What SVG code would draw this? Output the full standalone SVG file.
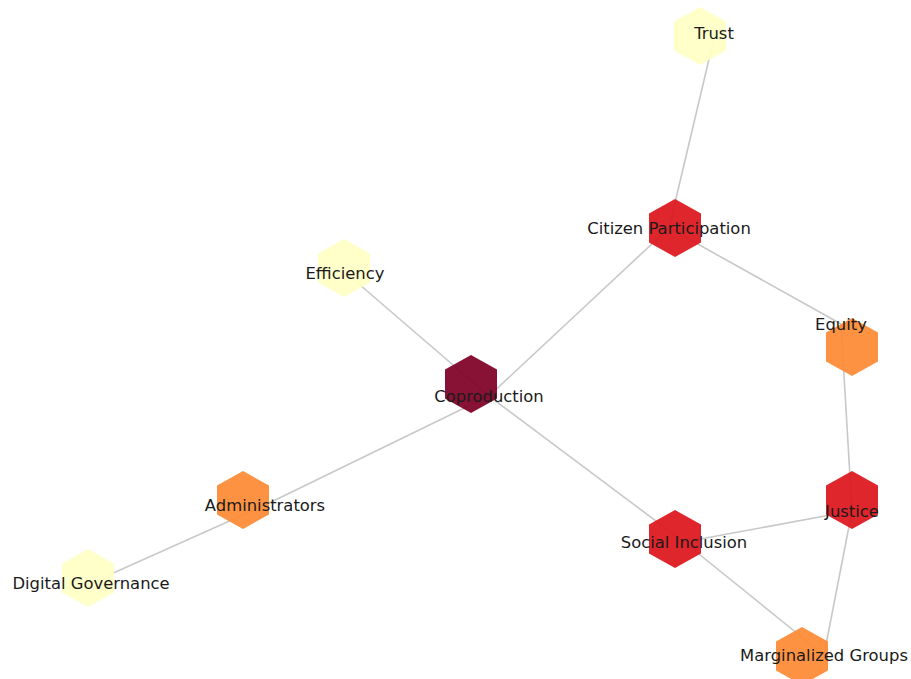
<svg xmlns="http://www.w3.org/2000/svg" width="911" height="679" viewBox="0 0 911 679">
<style>
.edge{stroke:#c8c8c8;stroke-width:1.6;fill:none}
.hex{fill-opacity:0.93}
.y{fill:#ffffc6}
.o{fill:#fd8a35}
.r{fill:#dd161c}
.m{fill:#7e0026}
text{font-family:"DejaVu Sans","Liberation Sans",sans-serif;font-size:16.4px;fill:#1a1a1a;text-anchor:middle}
</style>
<defs>
<polygon id="hx" points="0,-29 26,-14.5 26,14.5 0,29 -26,14.5 -26,-14.5"/>
</defs>
<rect width="911" height="679" fill="#ffffff"/>
<g id="edges">
<line class="edge" x1="714" y1="38" x2="669" y2="228"/>
<line class="edge" x1="669" y1="228" x2="489" y2="396"/>
<line class="edge" x1="669" y1="228" x2="841" y2="324"/>
<line class="edge" x1="345" y1="272" x2="489" y2="396"/>
<line class="edge" x1="489" y1="396" x2="684" y2="542"/>
<line class="edge" x1="489" y1="396" x2="265" y2="505"/>
<line class="edge" x1="265" y1="505" x2="91" y2="583"/>
<line class="edge" x1="841" y1="324" x2="852" y2="511"/>
<line class="edge" x1="852" y1="511" x2="684" y2="542"/>
<line class="edge" x1="852" y1="511" x2="824" y2="655"/>
<line class="edge" x1="684" y1="542" x2="824" y2="655"/>
</g>
<g id="trust"><use href="#hx" class="hex y" x="700" y="36"/><text x="714" y="39">Trust</text></g>
<g id="citizen-participation"><use href="#hx" class="hex r" x="675" y="228"/><text x="669" y="234">Citizen Participation</text></g>
<g id="efficiency"><use href="#hx" class="hex y" x="344" y="268"/><text x="345" y="279">Efficiency</text></g>
<g id="equity"><use href="#hx" class="hex o" x="852" y="347"/><text x="841" y="330">Equity</text></g>
<g id="coproduction"><use href="#hx" class="hex m" x="471" y="384"/><text x="489" y="402">Coproduction</text></g>
<g id="justice"><use href="#hx" class="hex r" x="852" y="500"/><text x="852" y="517">Justice</text></g>
<g id="administrators"><use href="#hx" class="hex o" x="243" y="500"/><text x="265" y="511">Administrators</text></g>
<g id="social-inclusion"><use href="#hx" class="hex r" x="675" y="539"/><text x="684" y="548">Social Inclusion</text></g>
<g id="digital-governance"><use href="#hx" class="hex y" x="88" y="578"/><text x="91" y="589">Digital Governance</text></g>
<g id="marginalized-groups"><use href="#hx" class="hex o" x="802" y="656"/><text x="824" y="661">Marginalized Groups</text></g>
</svg>
